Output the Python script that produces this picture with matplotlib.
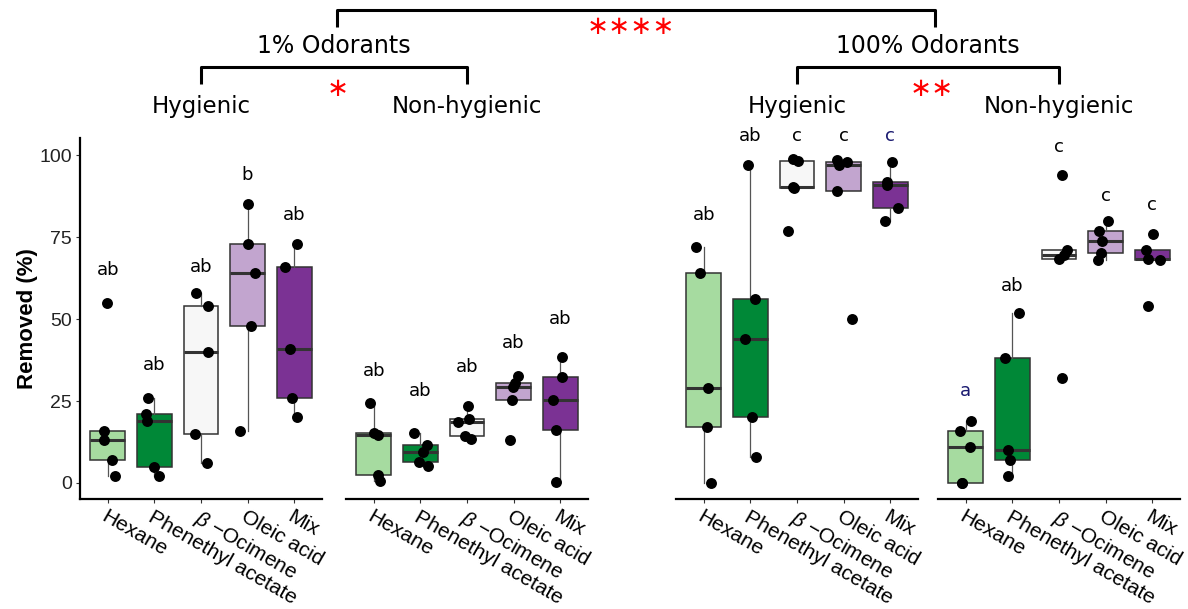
import matplotlib
matplotlib.use("Agg")
import matplotlib.pyplot as plt
import numpy as np

# categories / colours (PRGn-like)
CATEGORIES = ["Hexane", "Phenethyl acetate", "$\\beta$ \u2212Ocimene", "Oleic acid", "Mix"]
BOX_COLORS = ["#a6dba0", "#008837", "#f7f7f7", "#c2a5cf", "#7b3294"]

# removed (%) per category, 5 colonies each
hyg_1 = [[55, 16, 13, 7, 2], [26, 21, 19, 5, 2], [58, 54, 40, 15, 6],
         [85, 73, 64, 48, 16], [73, 66, 41, 26, 20]]
nonhyg_1 = [[24.4, 15.2, 14.5, 2.3, 0.5], [15.2, 11.6, 9.5, 6.3, 5.3],
            [23.4, 19.5, 18.5, 14.2, 13.4], [32.5, 30.5, 29.3, 25.4, 13.2],
            [38.3, 32.2, 25.4, 16.1, 0.3]]
hyg_100 = [[72, 64, 29, 17, 0], [97, 56, 44, 20, 8], [99, 98.3, 90.3, 90, 77],
           [98.5, 98, 97, 89.2, 50], [98, 92, 91, 84, 80]]
nonhyg_100 = [[19, 16, 11, 0, 0], [52, 38, 10, 7, 2], [94, 71, 69.5, 68.3, 32],
              [80, 77, 74, 70.3, 68], [76, 71, 68.3, 68, 54]]

# significance letters and where they sit
letters_hyg_1 = ["ab", "ab", "ab", "b", "ab"]
letters_nonhyg_1 = ["ab", "ab", "ab", "ab", "ab"]
letters_hyg_100 = ["ab", "ab", "c", "c", "c"]
letters_nonhyg_100 = ["a", "ab", "c", "c", "c"]
letter_y_hyg_1 = [63.5, 34.5, 64.5, 92.4, 80.2]
letter_y_nonhyg_1 = [32.5, 26.4, 33.8, 41.2, 48.5]
letter_y_hyg_100 = [80.3, 104.4, 104.4, 104.4, 104.4]
letter_y_nonhyg_100 = [26.5, 58.5, 101.1, 86.2, 83.4]

# horizontal jitter of the points (category units)
jit_hyg_1 = [[-0.03, -0.08, -0.08, 0.09, 0.15], [-0.13, -0.18, -0.16, 0.0, 0.09],
             [-0.1, 0.16, 0.16, -0.13, 0.12], [0.0, 0.0, 0.16, 0.08, -0.16],
             [0.06, -0.19, -0.09, -0.04, 0.07]]
jit_nonhyg_1 = [[-0.08, 0.0, 0.09, 0.08, 0.13], [-0.14, 0.14, 0.06, -0.04, 0.16],
                [0.03, 0.04, -0.19, -0.04, 0.08], [0.1, 0.04, -0.01, -0.03, -0.08],
                [0.05, 0.05, -0.16, -0.09, -0.09]]
jit_hyg_100 = [[-0.17, -0.08, 0.08, 0.06, 0.15], [-0.05, 0.09, -0.11, 0.04, 0.12],
               [-0.09, 0.03, -0.09, -0.06, -0.19], [-0.13, 0.08, -0.1, -0.13, 0.19],
               [0.04, -0.06, -0.06, 0.18, -0.1]]
jit_nonhyg_100 = [[0.11, -0.13, 0.08, -0.08, -0.08], [0.15, -0.15, -0.1, -0.05, -0.1],
                  [0.07, 0.18, 0.1, 0.0, 0.06], [0.06, -0.14, -0.07, -0.1, -0.16],
                  [0.03, -0.13, -0.08, 0.16, -0.09]]

NAVY = "#1a1a70"
panels = [
    (hyg_1, letters_hyg_1, letter_y_hyg_1, jit_hyg_1, [None] * 5),
    (nonhyg_1, letters_nonhyg_1, letter_y_nonhyg_1, jit_nonhyg_1, [None] * 5),
    (hyg_100, letters_hyg_100, letter_y_hyg_100, jit_hyg_100, [None, None, None, None, NAVY]),
    (nonhyg_100, letters_nonhyg_100, letter_y_nonhyg_100, jit_nonhyg_100, [NAVY, None, None, None, None]),
]

plt.rcParams["mathtext.fontset"] = "custom"
plt.rcParams["mathtext.it"] = "Liberation Sans:italic"
plt.rcParams["mathtext.rm"] = "Liberation Sans"

W, H = 1188, 609
fig = plt.figure(figsize=(W / 100, H / 100), dpi=100)

# overlay in pixel coords for the brackets and headings
over = fig.add_axes([0, 0, 1, 1])
over.set_xlim(0, W)
over.set_ylim(H, 0)
over.axis("off")

panel_left = [80, 346, 676, 938]
panel_w = 242
top_px, bot_px = 138, 499
pos = np.arange(1, 6)

for k, (data, letters, ly, jit, lcol) in enumerate(panels):
    ax = fig.add_axes([panel_left[k] / W, (H - bot_px) / H, panel_w / W, (bot_px - top_px) / H])
    ax.patch.set_alpha(0)
    bp = ax.boxplot(data, positions=pos, widths=0.75, patch_artist=True, showfliers=False,
                    showcaps=False, whis=1.5,
                    medianprops=dict(color="#333333", linewidth=2.2),
                    boxprops=dict(edgecolor="#333333", linewidth=1.1),
                    whiskerprops=dict(color="#555555", linewidth=0.9))
    for patch, c in zip(bp["boxes"], BOX_COLORS):
        patch.set_facecolor(c)
    for i, vals in enumerate(data):
        ax.scatter(pos[i] + np.array(jit[i]), vals, s=62, color="black", zorder=3,
                   clip_on=False, linewidths=0)
        ax.text(pos[i], ly[i], letters[i], ha="center", va="baseline", fontsize=13,
                family="DejaVu Sans", color=lcol[i] or "black")
    ax.set_xlim(0.4, 5.6)
    ax.set_ylim(-4.9, 105.3)
    for s in ["top", "right"]:
        ax.spines[s].set_visible(False)
    ax.spines["bottom"].set_linewidth(1.6)
    ax.spines["left"].set_linewidth(1.6)
    ax.set_xticks(pos)
    ax.set_xticklabels(CATEGORIES, rotation=-30, ha="left", va="top", rotation_mode="anchor",
                       fontsize=15, family="Liberation Sans", color="black")
    ax.tick_params(axis="x", length=3, color="#333333", pad=3)
    if k == 0:
        ax.set_yticks([0, 25, 50, 75, 100])
        ax.set_yticklabels(["0", "25", "50", "75", "100"], fontsize=14,
                           family="Liberation Sans", color="#222222")
        ax.tick_params(axis="y", length=3, color="#333333", pad=3)
        ax.set_ylabel("Removed (%)", fontsize=16, fontweight="bold",
                      family="Liberation Sans", labelpad=1)
    else:
        ax.spines["left"].set_visible(False)
        ax.set_yticks([])

# bracket / heading annotations
centers = [l + panel_w / 2 for l in panel_left]
g1 = (centers[0] + centers[1]) / 2
g2 = (centers[2] + centers[3]) / 2
lw = 2.2
red = "#ff0000"
over.plot([g1 + 3, g1 + 3, g2 + 7, g2 + 7], [27, 10, 10, 27], color="black", lw=lw,
          solid_capstyle="butt")
over.text((g1 + g2) / 2, 27, "\u2217\u2217\u2217\u2217", color=red, fontsize=19,
          ha="center", va="center", family="DejaVu Sans")
for a, b, title, stars in [(0, 1, "1% Odorants", "\u2217"), (2, 3, "100% Odorants", "\u2217\u2217")]:
    ca, cb = centers[a], centers[b]
    over.plot([ca, ca, cb, cb], [84, 67, 67, 84], color="black", lw=lw, solid_capstyle="butt")
    over.text((ca + cb) / 2, 46, title, fontsize=17, ha="center", va="center",
              family="DejaVu Sans")
    over.text((ca + cb) / 2 + 4, 89, stars, color=red, fontsize=19, ha="center",
              va="center", family="DejaVu Sans")
    over.text(ca, 106, "Hygienic", fontsize=16.5, ha="center", va="center", family="DejaVu Sans")
    over.text(cb, 106, "Non-hygienic", fontsize=16.5, ha="center", va="center",
              family="DejaVu Sans")

fig.savefig("out.png", dpi=100)
